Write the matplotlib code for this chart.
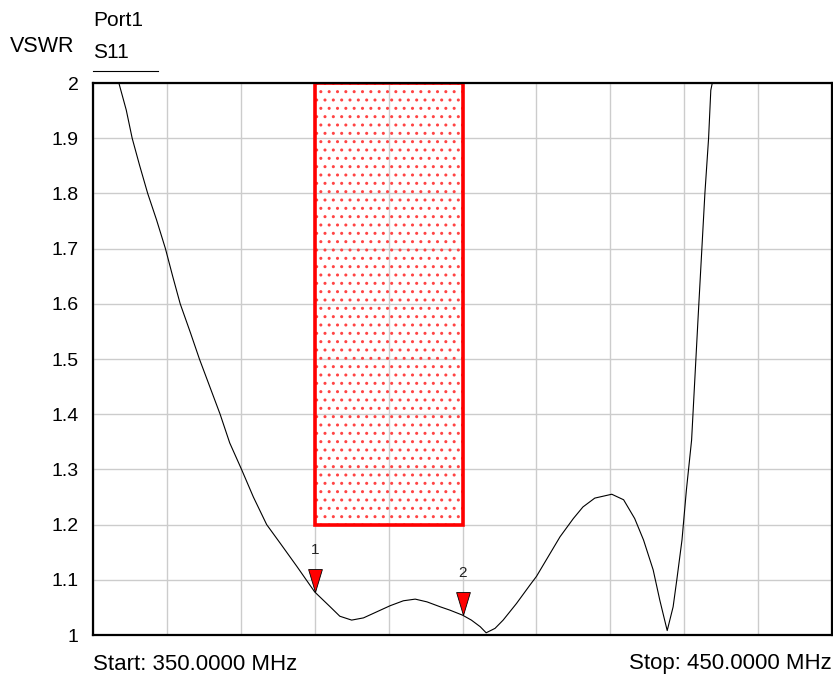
import matplotlib
matplotlib.use("Agg")
import matplotlib.pyplot as plt
from matplotlib.patches import Rectangle
from matplotlib.path import Path

plt.rcParams['font.family'] = ['Liberation Sans', 'DejaVu Sans']

# ---- data ----
freq_mhz = [353.5, 354.5, 355.3, 356.3, 357.4, 358.6, 359.8, 360.8, 361.8, 363.2,
            364.4, 365.8, 367.2, 368.5, 370.1, 371.7, 373.5, 375.4, 377.6, 380.0,
            382.1, 383.4, 385.0, 386.6, 388.4, 390.2, 392.0, 393.6, 395.2, 397.0,
            398.3, 400.0, 401.2, 402.4, 403.2, 404.4, 405.5, 407.3, 409.1, 410.0,
            411.6, 413.2, 415.0, 416.3, 417.9, 420.2, 421.8, 423.3, 424.5, 425.8,
            426.7, 427.7, 428.5, 429.0, 429.7, 430.3, 431.0, 431.9, 432.8, 433.3,
            433.6, 433.8]
vswr = [2.000, 1.951, 1.900, 1.851, 1.800, 1.752, 1.700, 1.649, 1.600, 1.547,
        1.500, 1.450, 1.400, 1.348, 1.300, 1.250, 1.200, 1.165, 1.124, 1.078,
        1.051, 1.034, 1.027, 1.031, 1.042, 1.053, 1.062, 1.065, 1.060, 1.051,
        1.045, 1.036, 1.027, 1.015, 1.004, 1.012, 1.027, 1.057, 1.090, 1.106,
        1.142, 1.178, 1.211, 1.232, 1.248, 1.255, 1.245, 1.211, 1.172, 1.118,
        1.063, 1.008, 1.051, 1.100, 1.172, 1.263, 1.353, 1.580, 1.800, 1.900,
        1.987, 2.000]

marker_ids = ["1", "2"]
marker_freq = [380.0, 400.0]
marker_vswr = [1.078, 1.036]

mask_freq = [380.0, 400.0]
mask_vswr = [1.2, 2.0]

x_start, x_stop = 350.0, 450.0
y_ticks = [1.0, 1.1, 1.2, 1.3, 1.4, 1.5, 1.6, 1.7, 1.8, 1.9, 2.0]
y_tick_labels = ["1", "1.1", "1.2", "1.3", "1.4", "1.5", "1.6", "1.7", "1.8", "1.9", "2"]
x_grid = [350, 360, 370, 380, 390, 400, 410, 420, 430, 440, 450]

W, H = 833, 680
fig = plt.figure(figsize=(W / 100, H / 100), dpi=100)
ax = fig.add_axes([93 / W, 1 - 635 / H, (832 - 93) / W, (635 - 83) / H])

ax.set_xlim(x_start, x_stop)
ax.set_ylim(1.0, 2.0)
ax.set_xticks(x_grid)
ax.set_xticklabels([])
ax.set_yticks(y_ticks)
ax.set_yticklabels(y_tick_labels, fontsize=14)
ax.tick_params(length=0, pad=10.5)
ax.grid(True, color='#cccccc', linewidth=1.0)
ax.set_axisbelow(True)
for s in ax.spines.values():
    s.set_linewidth(1.6)
    s.set_color('black')
    s.set_zorder(5)

# limit mask box: dotted fill + red border
fill = Rectangle((mask_freq[0], mask_vswr[0]), mask_freq[1] - mask_freq[0],
                 mask_vswr[1] - mask_vswr[0], facecolor='none', edgecolor='#ff4444',
                 linewidth=0, hatch='..', zorder=2)
ax.add_patch(fill)
border = Rectangle((mask_freq[0], mask_vswr[0]), mask_freq[1] - mask_freq[0],
                   mask_vswr[1] - mask_vswr[0], facecolor='none', edgecolor='red',
                   linewidth=2.6, zorder=2.5)
ax.add_patch(border)

# trace
ax.plot(freq_mhz, vswr, color='black', linewidth=0.8, zorder=3)

# markers (tip at data point)
tri = Path([(-0.3, 1.0), (0.3, 1.0), (0.0, 0.0), (-0.3, 1.0)],
           [Path.MOVETO, Path.LINETO, Path.LINETO, Path.CLOSEPOLY])
ax.plot(marker_freq, marker_vswr, linestyle='none', marker=tri, markersize=33,
        markerfacecolor='red', markeredgecolor='black', markeredgewidth=0.6, zorder=4)
for mid, mx, my in zip(marker_ids, marker_freq, marker_vswr):
    ax.annotate(mid, (mx, my), xytext=(0, 30), textcoords='offset points',
                ha='center', va='center', fontsize=11, color='#222222')

# header texts
fig.text(10 / W, 1 - 47 / H, "VSWR", fontsize=15.5, ha='left', va='center')
fig.text(93 / W, 1 - 20 / H, "Port1", fontsize=15, ha='left', va='center')
fig.text(93 / W, 1 - 53 / H, "S11", fontsize=15, ha='left', va='center')
fig.add_artist(plt.Line2D([93 / W, 158 / W], [1 - 71 / H, 1 - 71 / H],
                          color='black', linewidth=0.8))

fig.text(93 / W, 1 - 664 / H, "Start: 350.0000 MHz", fontsize=16, ha='left', va='center')
fig.text(832 / W, 1 - 664 / H, "Stop: 450.0000 MHz", fontsize=16, ha='right', va='center')

fig.savefig("out.png", dpi=100)
